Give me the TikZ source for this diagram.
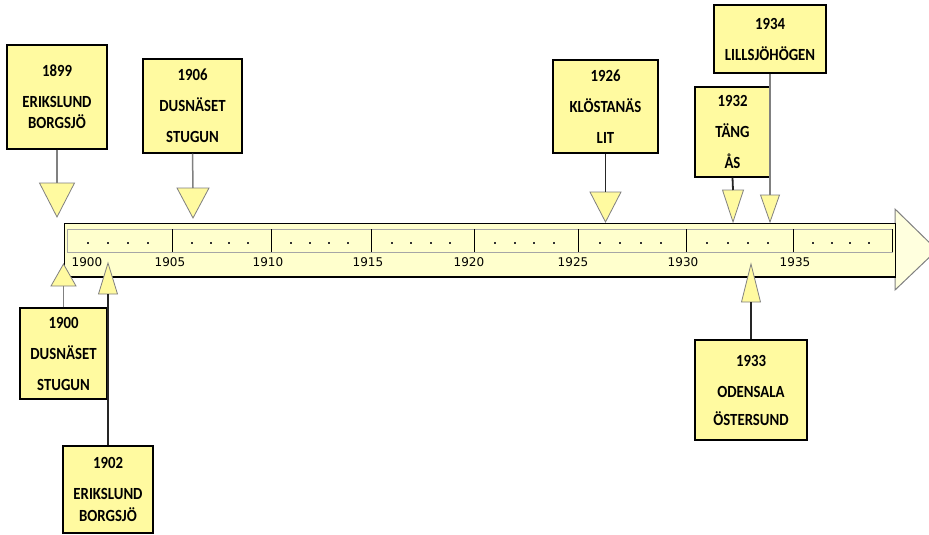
\documentclass[tikz,border=0pt]{standalone}
\usepackage{fontspec}
\setmainfont{Carlito}
\newfontfamily\boxfont[FakeStretch=0.87]{Carlito}
\newfontfamily\axisfont{DejaVu Sans}
\definecolor{boxyellow}{RGB}{255,250,160}
\definecolor{baryellow}{RGB}{255,255,205}
\definecolor{headyellow}{RGB}{255,255,222}
\definecolor{stemgrey}{RGB}{128,128,128}
\tikzset{
  evbox/.style={draw=black, line width=1.2pt, fill=boxyellow, align=center,
    inner sep=0pt, font=\boxfont\bfseries\fontsize{17}{31}\selectfont},
  pinmark/.style={draw=stemgrey, line width=0.8pt, fill=boxyellow},
  stem/.style={draw=stemgrey, line width=1.5pt},
  darkstem/.style={draw=black!85, line width=1.8pt},
  yearlabel/.style={font=\axisfont\fontsize{12}{13}\selectfont, inner sep=0pt},
}
% #1 name, #2 x, #3 base y, #4 half width, #5 tip y
\newcommand{\evpin}[5]{%
  \draw[pinmark] (#2-#4,#3) -- (#2+#4,#3) -- (#2,#5) -- cycle;
  \coordinate (#1) at (#2,#3);}
\begin{document}
\begin{tikzpicture}[x=1pt,y=-1pt]
  \useasboundingbox (0,0) rectangle (929,535);
  \clip (0,0) rectangle (929,535);
  \fill[white] (0,0) rectangle (929,535);
  % arrow
  \draw[draw=stemgrey, line width=1pt, fill=headyellow]
    (895,209) -- (937,250) -- (895,290) -- cycle;
  \draw[fill=baryellow, line width=1pt] (64,223) rectangle (895,277);
  \draw[line width=1.6pt] (64,277) -- (895,277);
  \draw[draw=gray!70, line width=0.8pt] (67,229) rectangle (892,252);
  % ticks
  \draw[line width=1pt] (172,229) -- (172,252);
  \draw[line width=1pt] (271,229) -- (271,252);
  \draw[line width=1pt] (371,229) -- (371,252);
  \draw[line width=1pt] (474,229) -- (474,252);
  \draw[line width=1pt] (578,229) -- (578,252);
  \draw[line width=1pt] (686,229) -- (686,252);
  \draw[line width=1pt] (793,229) -- (793,252);
  \draw[line width=1pt] (892,229) -- (892,252);
  \foreach \a/\b in {67/172,172/271,271/371,371/474,474/578,578/686,686/793,793/892}
    \foreach \f in {0.2,0.39,0.58,0.77}
      \fill[black!80] ({\a+\f*(\b-\a)-1},242) rectangle ++(2,2);
  \path[yearlabel]
    (87,262) node (y1900){1900}
    (170,262) node (y1905){1905}
    (268,262) node (y1910){1910}
    (368,262) node (y1915){1915}
    (469,262) node (y1920){1920}
    (573,262) node (y1925){1925}
    (683,262) node (y1930){1930}
    (795,262) node (y1935){1935};
  % pins
  \evpin{t1899}{57}{183}{17.5}{217}
  \evpin{t1906}{193}{188}{16}{218}
  \evpin{t1926}{605.5}{192}{15.5}{222}
  \evpin{t1932}{733}{190}{10.5}{222}
  \evpin{t1934}{770}{195}{9.5}{222}
  \evpin{t1900}{63.5}{286}{12.5}{264}
  \evpin{t1902}{108}{294}{9.5}{263}
  \evpin{t1933}{751}{302}{9.5}{264}
  % boxes
  \node[evbox, minimum width=100, minimum height=104] (b1899) at (57,97)
    {1899\\ERIKSLUND\\[-10pt]BORGSJÖ};
  \node[evbox, minimum width=99, minimum height=94] (b1906) at (192.5,106)
    {1906\\DUSNÄSET\\STUGUN};
  \node[evbox, minimum width=105, minimum height=93] (b1926) at (605.5,106.5)
    {1926\\KLÖSTANÄS\\LIT};
  \node[evbox, minimum width=112, minimum height=68] (b1934) at (770,39)
    {1934\\LILLSJÖHÖGEN};
  \node[evbox, minimum width=75, minimum height=90] (b1932) at (732.5,132)
    {1932\\TÄNG\\ÅS};
  \node[evbox, minimum width=87, minimum height=91] (b1900) at (63.5,353.5)
    {1900\\DUSNÄSET\\STUGUN};
  \node[evbox, minimum width=90, minimum height=87] (b1902) at (108,489.5)
    {1902\\ERIKSLUND\\[-9pt]BORGSJÖ};
  \node[evbox, minimum width=112, minimum height=100] (b1933) at (751,390)
    {1933\\ODENSALA\\[-3pt]ÖSTERSUND};
  % stems
  \draw[stem] (b1899.south) -- (t1899);
  \draw[stem] (b1906.south) -- (t1906);
  \draw[darkstem] (b1926.south) -- (t1926);
  \draw[darkstem] (b1932.south) -- (t1932);
  \draw[stem] (b1934.south) -- (t1934);
  \draw[stem] (b1900.north) -- (t1900);
  \draw[darkstem] (b1902.north) -- (t1902);
  \draw[darkstem] (b1933.north) -- (t1933);
\end{tikzpicture}
\end{document}
